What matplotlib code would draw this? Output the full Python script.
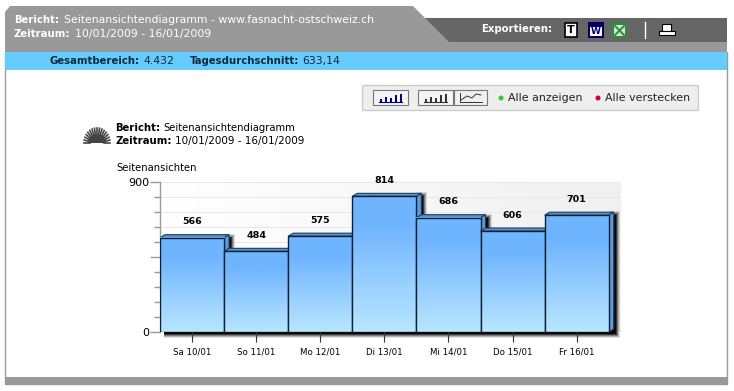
import matplotlib
matplotlib.use("Agg")
import matplotlib.pyplot as plt
from matplotlib.colors import LinearSegmentedColormap
from matplotlib.patches import Polygon, Rectangle, Circle, Wedge
import numpy as np

days = ["Sa 10/01", "So 11/01", "Mo 12/01", "Di 13/01", "Mi 14/01", "Do 15/01", "Fr 16/01"]
views = [566, 484, 575, 814, 686, 606, 701]
y_ticks = [0, 90, 180, 270, 360, 450, 540, 630, 720, 810, 900]
y_labels = ["0", "", "", "", "", "", "", "", "", "", "900"]

W, H = 734, 391
GREY = "#999999"
DARK = "#666666"
NAVY = "#0B2A3C"

fig = plt.figure(figsize=(W / 100, H / 100), dpi=100)

# page furniture, pixel coordinates with y going down
bg = fig.add_axes([0, 0, 1, 1])
bg.set_xlim(0, W)
bg.set_ylim(H, 0)
bg.axis("off")


def box(x0, y0, x1, y1, color, edge="none", z=1, lw=0.8):
    bg.add_patch(Rectangle((x0, y0), x1 - x0, y1 - y0, fc=color, ec=edge, lw=lw, zorder=z))


def label(x, y, s, color="black", bold=False, size=None):
    if size is None:
        size = 7.3 if bold else 7.8
    bg.text(x, y, s, color=color, fontsize=size, va="center",
            fontweight="bold" if bold else "normal", zorder=6)


box(5, 52, 727, 384, "white", edge=GREY, lw=1)
box(5, 377, 727, 385, GREY)
bg.add_patch(Polygon([(165, 18), (727, 18), (727, 42), (165, 42)], fc=DARK, ec="none", zorder=1))
bg.add_patch(Polygon([(5, 12), (10, 6), (413, 6), (449, 42), (727, 42), (727, 52), (5, 52)],
                     fc=GREY, ec="none", zorder=2))
box(5, 52, 727, 70, "#66CCFF", z=2)

label(14, 20, "Bericht:", "white", True)
label(64, 20, "Seitenansichtendiagramm - www.fasnacht-ostschweiz.ch", "white")
label(14, 34, "Zeitraum:", "white", True)
label(75, 34, "10/01/2009 - 16/01/2009", "white")
label(49, 61, "Gesamtbereich:", NAVY, True)
label(143, 61, "4.432", NAVY)
label(190, 61, "Tagesdurchschnitt:", NAVY, True)
label(302, 61, "633,14", NAVY)
label(481, 29, "Exportieren:", "white", True)

# export icons
box(565, 23, 577, 37, "white", edge="black", z=3, lw=1.2)
bg.text(571, 30, "T", fontsize=8, fontweight="bold", ha="center", va="center", zorder=6)
box(588, 22, 604, 38, "#000066", z=3)
box(590, 27, 602, 36, "white", z=3)
bg.text(596, 31.5, "W", fontsize=6.5, fontweight="bold", color="#000066", ha="center", va="center", zorder=6)
box(612, 22, 627, 38, "#2E8B3E", z=3)
box(614, 25, 625, 36, "#CFE8CF", z=3)
bg.plot([615, 624], [26, 35], color="#2E8B3E", lw=1.4, zorder=4)
bg.plot([615, 624], [35, 26], color="#2E8B3E", lw=1.4, zorder=4)
bg.plot([645, 645], [22, 38], color="white", lw=1, zorder=4)
box(662, 24, 671, 31, "white", edge="black", z=3, lw=0.8)
box(659, 31, 675, 35, "white", edge="black", z=4, lw=0.8)

# toolbar
box(362, 85, 698, 110, "#EEEEEE", edge="#CCCCCC", z=1, lw=1)
for x0, x1, col in [(373, 408, "#000080"), (418, 453, "#333333")]:
    box(x0, 90, x1, 105, "#F4F4F4", edge="#777777", z=2, lw=0.8)
    bg.plot([x0 + 6, x1 - 6], [102, 102], color=col, lw=0.8, zorder=3)
    for k, h in enumerate([3, 5, 4, 7, 8]):
        box(x0 + 7 + k * 5, 102 - h, x0 + 9 + k * 5, 102, col, z=3)
box(454, 90, 487, 105, "#F0F0F0", edge="#777777", z=2, lw=0.8)
bg.plot([460, 460, 482], [93, 102, 102], color="#333333", lw=0.7, zorder=3)
bg.plot([461, 467, 472, 476, 481], [100, 96, 98, 94, 95], color="#333333", lw=0.7, zorder=3)
bg.add_patch(Circle((501, 98), 2.5, fc="#33CC33", ec="none", zorder=3))
bg.add_patch(Circle((598, 98), 2.5, fc="#CC0044", ec="none", zorder=3))
label(508, 98, "Alle anzeigen", "#222222", size=7.9)
label(605, 98, "Alle verstecken", "#222222", size=7.9)

# report caption with the little sun
bg.add_patch(Wedge((97, 143), 9, 180, 360, fc="#444444", ec="none", zorder=3))
for a in np.linspace(0, np.pi, 17):
    bg.plot([97 + 7 * np.cos(a), 97 + 13 * np.cos(a)], [143 - 7 * np.sin(a), 143 - 15 * np.sin(a)],
            color="#444444", lw=1.2, zorder=3)
label(115, 128, "Bericht:", "black", True)
label(163, 128, "Seitenansichtendiagramm", "black", size=7.2)
label(115, 141, "Zeitraum:", "black", True)
label(175, 141, "10/01/2009 - 16/01/2009", "black", size=7.5)
label(116, 168, "Seitenansichten", "black", size=7.2)

# chart area: left 160, right 621, y=0 at 332, y=900 at 182
ax = fig.add_axes([160 / W, 1 - 332 / H, 461 / W, 150 / H], zorder=2)
ax.patch.set_alpha(0)
px_x = 1 / 64.1
px_y = 6.0
xlim = (-0.5, -0.5 + 461 * px_x)

ax.imshow(np.linspace(0, 1, 64).reshape(1, -1), extent=(xlim[0], xlim[1], 0, 900), aspect="auto",
          cmap=LinearSegmentedColormap.from_list("plot_bg", ["#FFFFFF", "#F0F0F0"]), zorder=0)
for v in y_ticks[1:]:
    ax.axhline(v, color="#E8E8E8", lw=0.7, zorder=1)

shadow_steps = [(3, 0.12), (2, 0.2), (1, 0.3), (0, 0.55), (-1, 0.8)]

# one shadow strip under the whole row of bars
for grow, alpha in shadow_steps:
    ax.add_patch(Rectangle((-0.5 + 4 * px_x, -(3 + grow) * px_y),
                           len(views) + (4 + grow) * px_x, (3 + grow) * px_y,
                           fc="black", ec="none", alpha=alpha, zorder=1.5, clip_on=False))

bar_cmap = LinearSegmentedColormap.from_list(
    "bar", [(0, "#6FB4FF"), (0.2, "#6FB4FF"), (1, "#B9E6FF")])
gradient = np.linspace(0, 1, 128).reshape(-1, 1)
z = 2
for i, v in enumerate(views):
    l, r = i - 0.5, i + 0.5
    dx, dy = 5 * px_x, 3 * px_y
    for grow, alpha in shadow_steps:
        ax.add_patch(Rectangle((r, 0), (4 + grow + 4) * px_x, v + (1 + grow) * px_y,
                               fc="black", ec="none", alpha=alpha, zorder=z, clip_on=False))
    ax.add_patch(Polygon([(r, 0), (r + dx, dy), (r + dx, v + dy), (r, v)],
                         fc="#5A9BE0", ec="#1F3D5C", lw=0.8, zorder=z + 1))
    ax.add_patch(Polygon([(l, v), (l + dx, v + dy), (r + dx, v + dy), (r, v)],
                         fc="#5B93CE", ec="#1F3D5C", lw=0.8, zorder=z + 1))
    ax.imshow(gradient, extent=(l, r, 0, v), aspect="auto", cmap=bar_cmap, origin="upper", zorder=z + 2)
    ax.add_patch(Rectangle((l, 0), 1, v, fc="none", ec="#10202E", lw=1, zorder=z + 3))
    ax.text(i, v + 16 * px_y, str(v), ha="center", va="center", fontsize=6.8,
            fontweight="bold", zorder=60, clip_on=False)
    z += 4

ax.set_xlim(*xlim)
ax.set_ylim(0, 900)
ax.set_xticks(range(len(days)))
ax.set_xticklabels(days, fontsize=6.2)
ax.set_yticks(y_ticks)
ax.set_yticklabels(y_labels, fontsize=8)
ax.tick_params(axis="x", length=7, width=0.8, color="#333333", pad=4)
ax.tick_params(axis="y", length=7, width=1, color=GREY, pad=1)
for t in ax.yaxis.get_major_ticks():
    if t.get_loc() not in (0, 900, 450):
        t.tick1line.set_markersize(4)
for name in ("top", "right", "bottom"):
    ax.spines[name].set_visible(False)
ax.spines["left"].set_color(GREY)
ax.spines["left"].set_linewidth(1)

fig.savefig("out.png", dpi=100)
